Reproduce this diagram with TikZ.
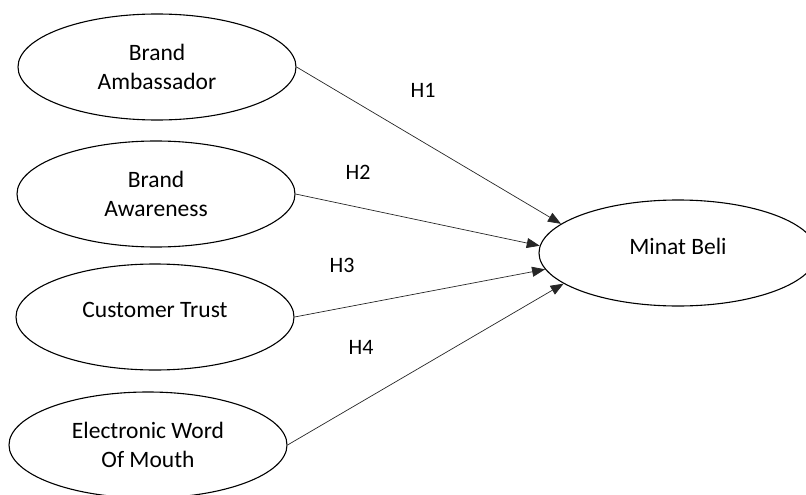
\documentclass[tikz,border=0pt]{standalone}
\usepackage{fontspec}
\setmainfont{Carlito}
\usetikzlibrary{arrows.meta,shapes.geometric}

\begin{document}
\begin{tikzpicture}[x=1pt, y=-1pt,
      var/.style={draw, ellipse, line width=1.1pt, minimum width=278pt, minimum height=106pt, align=center, font=\fontsize{23.5}{29}\selectfont},
      oneline/.style={text depth=14pt},
      hyp/.style={font=\fontsize{22}{26}\selectfont},
      link/.style={-{Triangle[length=13pt,width=10pt]}, line width=0.7pt, black!85},
    ]
      \clip (0,0) rectangle (806,495);
      \node[var] (amb) at (157,67) {Brand\\Ambassador};
      \node[var] (awr) at (156,194) {Brand\\Awareness};
      \node[var, oneline] (trust) at (155,317) {Customer Trust};
      \node[var] (ewom) at (148,445) {Electronic Word\\Of Mouth};
      \node[var, oneline] (minat) at (678,253) {Minat Beli};
      \node[hyp] (h1) at (423,90) {H1};
      \node[hyp] (h2) at (358,172) {H2};
      \node[hyp] (h3) at (342,265) {H3};
      \node[hyp] (h4) at (361,347) {H4};
      \draw[link] (amb.east) -- (minat.166);
      \draw[link] (awr.east) -- (minat.177);
      \draw[link] (trust.east) -- (minat.187);
      \draw[link] (ewom.east) -- (minat.195);
    \end{tikzpicture}
\end{document}
